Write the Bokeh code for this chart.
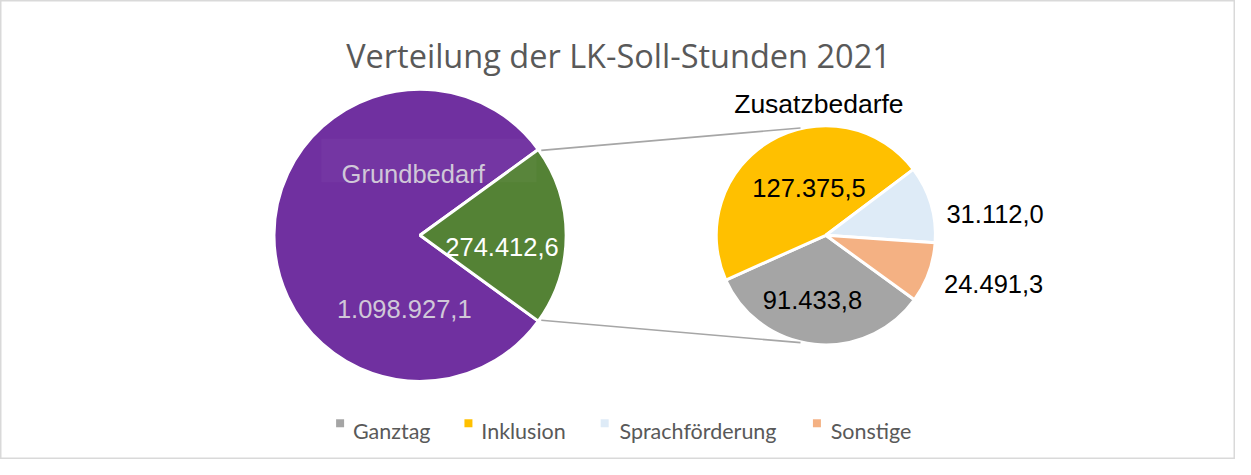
import math
from bokeh.plotting import figure
from bokeh.models import Range1d, ColumnDataSource
from bokeh.core.properties import value
from bokeh.embed import file_html
from bokeh.resources import INLINE

# ---------------- data ----------------
title_text = "Verteilung der LK-Soll-Stunden 2021"
secondary_title = "Zusatzbedarfe"
main_label = "Grundbedarf"
main_value = 1098927.1
categories = ["Ganztag", "Inklusion", "Sprachförderung", "Sonstige"]
values = [91433.8, 127375.5, 31112.0, 24491.3]
colors = ["#A5A5A5", "#FFC000", "#DEEBF7", "#F4B183"]
main_color = "#7030A0"
rest_color = "#548235"

# ---------------- layout (chart-frame pixels, y downward) ----------------
W, H = 1235, 459
FW, FH = 1251, 475


def Y(py):
    return FH - py


left_c = (425, 243)
left_r = 148
right_c = (836, 243)
right_r = 111

# label offsets relative to pie centres (dx, dy to baseline)
main_name_off = (-7, -63)
main_val_off = (-16, 76)
rest_val_off = (83, 12)
cat_label_off = [(-13.5, 67), (-17, -49), (171.5, -22), (170, 50)]
cat_label_color = ["#000000", "#000000", "#000000", "#000000"]
LBL = "25.5px"


def fmt(v):
    s = f"{v:,.1f}"
    return s.replace(",", "X").replace(".", ",").replace("X", ".")


D = math.pi / 180.0

p = figure(width=W, height=H, output_backend="svg", toolbar_location=None,
           x_range=Range1d(0, FW), y_range=Range1d(0, FH),
           min_border=0)
p.xaxis.visible = False
p.yaxis.visible = False
p.grid.visible = False
p.outline_line_color = "#D9D9D9"
p.outline_line_width = 2
p.background_fill_color = "white"
p.border_fill_color = "white"

# ---------------- primary pie ----------------
rest_total = sum(values)
total = main_value + rest_total
half = 180.0 * rest_total / total  # half-angle of the split-off slice (deg)

p.wedge(x=left_c[0], y=Y(left_c[1]), radius=left_r,
        start_angle=half * D, end_angle=(360 - half) * D,
        fill_color=main_color, line_color="white", line_width=3)
p.wedge(x=left_c[0], y=Y(left_c[1]), radius=left_r,
        start_angle=-half * D, end_angle=half * D,
        fill_color=rest_color, line_color="white", line_width=3)

# ---------------- secondary pie (clockwise from -half) ----------------
starts, ends = [], []
cur = -half
for v in values:
    sweep = 360.0 * v / rest_total
    ends.append(cur * D)
    starts.append((cur - sweep) * D)
    cur -= sweep

src = ColumnDataSource(dict(start=starts, end=ends, color=colors, cat=categories))
p.wedge(x=right_c[0], y=Y(right_c[1]), radius=right_r,
        start_angle="start", end_angle="end",
        fill_color="color", line_color="white", line_width=3, source=src)

# ---------------- connector lines ----------------
conn_angle = math.radians(103)
for sgn in (1, -1):
    a0 = math.radians(half) * sgn
    x0 = left_c[0] + left_r * math.cos(a0)
    y0 = Y(left_c[1]) + left_r * math.sin(a0)
    x1 = right_c[0] + (right_r + 3) * math.cos(conn_angle)
    y1 = Y(right_c[1]) + (right_r + 3) * math.sin(conn_angle) * sgn
    p.line([x0 + 3, x1], [y0 + 1 * sgn, y1], line_color="#A6A6A6", line_width=1.6)

# ---------------- primary labels ----------------
box_c = (left_c[0] + 9, left_c[1] - 77.5)
p.rect(x=box_c[0], y=Y(box_c[1]), width=218, height=45,
       fill_color="#ffffff", fill_alpha=0.03, line_color=None)
p.text(x=[left_c[0] + main_name_off[0]], y=[Y(left_c[1] + main_name_off[1])],
       text=[main_label], text_align="center", text_baseline="alphabetic",
       text_font=value("Liberation Sans"), text_font_size=LBL, text_color="#D0C8D8")
p.text(x=[left_c[0] + main_val_off[0]], y=[Y(left_c[1] + main_val_off[1])],
       text=[fmt(main_value)], text_align="center", text_baseline="alphabetic",
       text_font=value("Liberation Sans"), text_font_size=LBL, text_color="#D0C8D8")
p.text(x=[left_c[0] + rest_val_off[0]], y=[Y(left_c[1] + rest_val_off[1])],
       text=[fmt(rest_total)], text_align="center", text_baseline="alphabetic",
       text_font=value("Liberation Sans"), text_font_size=LBL, text_color="#FFFFFF")

# ---------------- secondary labels ----------------
lx = [right_c[0] + o[0] for o in cat_label_off]
ly = [Y(right_c[1] + o[1]) for o in cat_label_off]
p.text(x=lx, y=ly, text=[fmt(v) for v in values], text_align="center",
       text_baseline="alphabetic", text_font=value("Liberation Sans"),
       text_font_size=LBL, text_color=cat_label_color)

# ---------------- titles ----------------
p.text(x=[626], y=[Y(57)], text=[title_text], text_align="center",
       text_baseline="alphabetic", text_font=value("Open Sans"),
       text_font_size="32.5px", text_color="#595959")
p.text(x=[829], y=[Y(107)], text=[secondary_title], text_align="center",
       text_baseline="alphabetic", text_font=value("Liberation Sans"),
       text_font_size="26.5px", text_color="#000000")

# ---------------- legend ----------------
leg_sq_x = [344, 474, 612, 827]
leg_txt_x = [357, 487, 627, 841]
leg_y = 437.5
p.scatter(x=leg_sq_x, y=[Y(leg_y)] * 4, marker="square", size=8,
          fill_color=colors, line_color=None)
p.text(x=leg_txt_x, y=[Y(445)] * 4, text=categories, text_align="left",
       text_baseline="alphabetic", text_font=value("Lato"),
       text_font_size="21.5px", text_color="#595959")

open("out.html", "w").write(file_html(p, INLINE))
